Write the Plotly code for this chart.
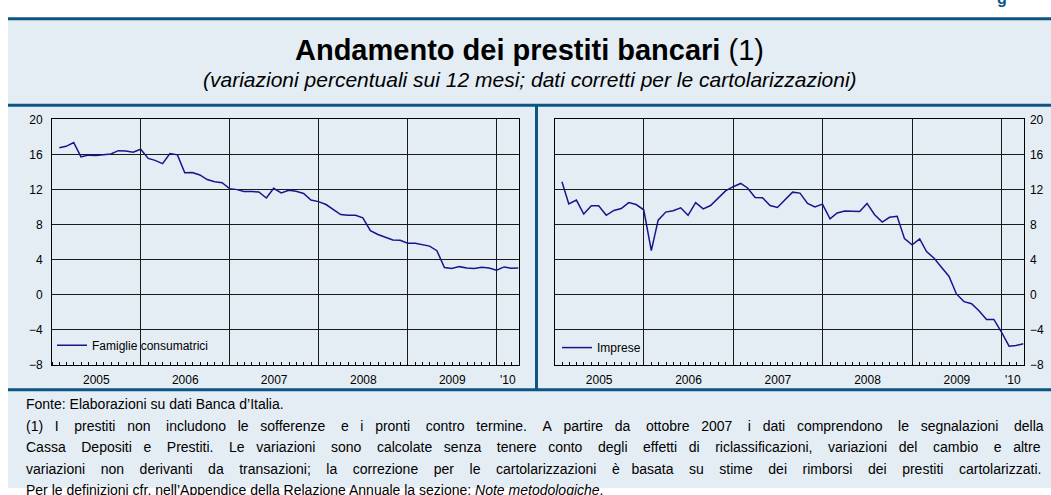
import pandas as pd
import plotly.graph_objects as go

# ---- data (monthly, Jan 2005 - Mar 2010, 12-month % changes) ----
months = pd.date_range("2005-01-01", periods=63, freq="MS") + pd.offsets.MonthEnd(0)

famiglie = [16.78, 16.93, 17.37, 15.74, 15.93, 15.89, 15.96, 16.07, 16.44, 16.41, 16.26, 16.60,
            15.56, 15.33, 14.96, 16.11, 15.96, 13.93, 13.96, 13.67, 13.15, 12.89, 12.78, 12.11,
            12.00, 11.78, 11.78, 11.74, 11.04, 12.15, 11.63, 11.93, 11.82, 11.56, 10.81, 10.63,
            10.30, 9.70, 9.15, 9.07, 9.07, 8.78, 7.33, 6.89, 6.59, 6.26, 6.22, 5.89,
            5.89, 5.70, 5.56, 5.04, 3.11, 3.00, 3.22, 3.07, 3.00, 3.15, 3.07, 2.81,
            3.19, 3.04, 3.07]

imprese = [12.89, 10.37, 10.81, 9.22, 10.15, 10.15, 9.07, 9.63, 9.85, 10.52, 10.30, 9.70,
           5.04, 8.52, 9.44, 9.59, 9.93, 9.07, 10.52, 9.81, 10.19, 11.04, 11.85, 12.33,
           12.70, 12.19, 11.11, 11.07, 10.19, 9.96, 10.85, 11.71, 11.60, 10.43, 10.02, 10.35,
           8.66, 9.33, 9.55, 9.50, 9.50, 10.43, 9.14, 8.29, 8.84, 8.95, 6.41, 5.71,
           6.38, 4.94, 4.17, 3.14, 2.10, 0.11, -0.77, -1.00, -1.80, -2.80, -2.80, -4.23,
           -5.85, -5.78, -5.56]

series_names = ["Famiglie consumatrici", "Imprese"]

year_bounds = ["2006-01-01", "2007-01-01", "2008-01-01", "2009-01-01", "2010-01-01"]
year_label_pos = ["2005-07-02", "2006-07-02", "2007-07-02", "2008-07-02", "2009-07-02", "2010-02-15"]
year_labels = ["2005", "2006", "2007", "2008", "2009", "'10"]
y_ticks = [-8, -4, 0, 4, 8, 12, 16, 20]

x_range = ["2005-01-01", "2010-03-31"]
y_range = [-8, 20]

title_text = "<b>Andamento dei prestiti bancari</b> (1)"
subtitle_text = "(variazioni percentuali sui 12 mesi; dati corretti per le cartolarizzazioni)"
note_lines = [
    "Fonte: Elaborazioni su dati Banca d\u2019Italia.",
    "(1) I prestiti non includono le sofferenze e i pronti contro termine. A partire da ottobre 2007 i dati comprendono le segnalazioni della",
    "Cassa Depositi e Prestiti. Le variazioni sono calcolate senza tenere conto degli effetti di riclassificazioni, variazioni del cambio e altre",
    "variazioni non derivanti da transazioni; la correzione per le cartolarizzazioni \u00e8 basata su stime dei rimborsi dei prestiti cartolarizzati.",
    "Per le definizioni cfr. nell\u2019Appendice della Relazione Annuale la sezione: <i>Note metodologiche</i>.",
]
note_justified = [False, True, True, True, False]

# ---- styling ----
W, H = 1051, 495
FONT = "Liberation Sans, Arial, sans-serif"
DARK = "#0b5584"
BG = "#e5edf4"
LINE = "#16168c"
GRID = "#1a1a1a"
NOTE_SIZE = 14


def px_x(p):
    return p / W


def px_y(p):
    return (H - p) / H


# Arial / Liberation Sans advance widths (1/1000 em) used to justify the note lines
_AW = {" ": 278, "(": 333, ")": 333, ",": 278, "-": 333, ".": 278, ":": 278, ";": 278,
       "\u2019": 222, "'": 191, "\u00e8": 556}
for _c in "0123456789":
    _AW[_c] = 556
_AW.update(dict(zip("ABCDEFGHIJKLMNOPQRSTUVWXYZ",
                    [667, 667, 722, 722, 667, 611, 778, 722, 278, 500, 667, 556, 833, 722, 778,
                     667, 778, 722, 667, 611, 722, 667, 944, 667, 667, 611])))
_AW.update(dict(zip("abcdefghijklmnopqrstuvwxyz",
                    [556, 556, 500, 556, 556, 278, 556, 556, 222, 222, 500, 222, 833, 556, 556,
                     556, 556, 333, 500, 278, 556, 500, 722, 500, 500, 500])))


def text_w(s, size):
    return sum(_AW.get(c, 556) for c in s) * size / 1000.0


def justify(line, size, target):
    words = line.split(" ")
    gaps = len(words) - 1
    natural = text_w(line, size)
    extra = max(0.0, target - natural)
    sp = 278 * size / 1000.0
    out = words[0]
    used = 0
    for i, w in enumerate(words[1:]):
        want = round(extra * (i + 1) / gaps / sp)
        k = want - used
        used = want
        out += "\u00a0" * (1 + k) + w
    return out


fig = go.Figure()
fig.add_trace(go.Scatter(x=months, y=famiglie, mode="lines", name=series_names[0],
                         line=dict(color=LINE, width=1.5), xaxis="x", yaxis="y",
                         legend="legend"))
fig.add_trace(go.Scatter(x=months, y=imprese, mode="lines", name=series_names[1],
                         line=dict(color=LINE, width=1.5), xaxis="x2", yaxis="y2",
                         legend="legend2"))
# empty helper traces so the year-label axes are drawn
fig.add_trace(go.Scatter(x=year_label_pos, y=[None] * len(year_label_pos), mode="lines",
                         xaxis="x3", yaxis="y", showlegend=False, hoverinfo="skip"))
fig.add_trace(go.Scatter(x=year_label_pos, y=[None] * len(year_label_pos), mode="lines",
                         xaxis="x4", yaxis="y2", showlegend=False, hoverinfo="skip"))

y_dom = [px_y(368.5), px_y(115.7)]
left_dom = [px_x(52), px_x(518.5)]
right_dom = [px_x(554.6), px_x(1023.5)]


def main_x(dom):
    return dict(domain=dom, type="date", range=x_range, tickvals=year_bounds,
                showticklabels=False, ticks="", showgrid=True, gridcolor=GRID, gridwidth=1,
                showline=True, linecolor="black", linewidth=1, mirror=True, zeroline=False,
                minor=dict(dtick="M1", tick0="2005-01-01", ticks="inside", ticklen=3,
                           tickcolor="black", tickwidth=1, showgrid=False))


def label_x(over, anchor):
    return dict(overlaying=over, anchor=anchor, type="date", range=x_range,
                tickvals=year_label_pos, ticktext=year_labels, showgrid=False,
                showline=False, zeroline=False, ticks="", side="bottom",
                tickfont=dict(family=FONT, size=12, color="black"), ticklabelstandoff=6)


def main_y(anchor, side, standoff):
    return dict(domain=y_dom, range=y_range, tickvals=y_ticks, anchor=anchor, side=side,
                showgrid=True, gridcolor=GRID, gridwidth=1, zeroline=False,
                showline=True, linecolor="black", linewidth=1, mirror=True, ticks="",
                ticklabelstandoff=standoff, tickfont=dict(family=FONT, size=12, color="black"))


note_y = [409, 431, 453, 475, 497]
annotations = [
    dict(text=title_text, x=px_x(529.5), y=px_y(44),
         xref="paper", yref="paper", xanchor="center", yanchor="middle", showarrow=False,
         font=dict(family=FONT, size=29, color="black")),
    dict(text="<i>" + subtitle_text + "</i>",
         x=px_x(529.5), y=px_y(75), xref="paper", yref="paper", xanchor="center",
         yanchor="middle", showarrow=False, font=dict(family=FONT, size=21, color="black")),
    dict(text="<b>g</b>", x=px_x(1002), y=px_y(-9), xref="paper", yref="paper",
         xanchor="center", yanchor="middle", showarrow=False,
         font=dict(family=FONT, size=16, color=DARK)),
]
for line, just, yy in zip(note_lines, note_justified, note_y):
    txt = justify(line, NOTE_SIZE, 1040 - 24) if just else line
    annotations.append(dict(text=txt, x=px_x(24), y=px_y(yy), xref="paper", yref="paper",
                            xanchor="left", yanchor="middle", align="left", showarrow=False,
                            font=dict(family=FONT, size=NOTE_SIZE, color="black")))

fig.update_layout(
    width=W, height=H,
    margin=dict(l=0, r=0, t=0, b=0),
    paper_bgcolor="white",
    plot_bgcolor="white",
    font=dict(family=FONT, color="black"),
    xaxis=main_x(left_dom) | dict(anchor="y"),
    xaxis2=main_x(right_dom) | dict(anchor="y2"),
    xaxis3=label_x("x", "y"),
    xaxis4=label_x("x2", "y2"),
    yaxis=main_y("x", "left", 6),
    yaxis2=main_y("x2", "right", 3),
    legend=dict(x=px_x(52), y=px_y(348), xanchor="left", yanchor="middle",
                bgcolor="rgba(255,255,255,0)", font=dict(family=FONT, size=12),
                itemwidth=30, tracegroupgap=0),
    legend2=dict(x=px_x(557), y=px_y(350.5), xanchor="left", yanchor="middle",
                 bgcolor="rgba(255,255,255,0)", font=dict(family=FONT, size=12),
                 itemwidth=30, tracegroupgap=0),
    showlegend=True,
    shapes=[
        dict(type="rect", xref="paper", yref="paper", x0=px_x(8), x1=1, y0=0, y1=px_y(12),
             fillcolor=BG, line=dict(width=0), layer="below"),
        dict(type="line", xref="paper", yref="paper", x0=px_x(8), x1=1, y0=px_y(12), y1=px_y(12),
             line=dict(color=DARK, width=3)),
        dict(type="line", xref="paper", yref="paper", x0=px_x(8), x1=1, y0=px_y(101), y1=px_y(101),
             line=dict(color=DARK, width=3)),
        dict(type="line", xref="paper", yref="paper", x0=px_x(8), x1=1, y0=px_y(394), y1=px_y(394),
             line=dict(color=DARK, width=3)),
        dict(type="line", xref="paper", yref="paper", x0=px_x(536.5), x1=px_x(536.5),
             y0=px_y(101), y1=px_y(394), line=dict(color=DARK, width=3)),
    ],
    annotations=annotations,
)

# remove the default page margin so the 1051x495 figure fills the window exactly
fig.write_html("out.html", config={"displayModeBar": False},
               post_script="document.body.style.margin='0';")
